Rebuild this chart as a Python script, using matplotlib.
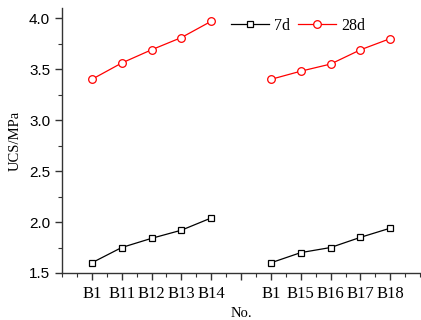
import numpy as np
import matplotlib
matplotlib.use("Agg")
import matplotlib.pyplot as plt
from matplotlib.ticker import MultipleLocator

tick_labels = ["B1", "B11", "B12", "B13", "B14", "", "B1", "B15", "B16", "B17", "B18"]
ucs_7d = [1.60, 1.75, 1.84, 1.92, 2.04, np.nan, 1.60, 1.70, 1.75, 1.85, 1.94]
ucs_28d = [3.40, 3.56, 3.69, 3.81, 3.97, np.nan, 3.40, 3.48, 3.55, 3.69, 3.80]

x = np.arange(1, len(tick_labels) + 1)

fig = plt.figure(figsize=(4.21, 3.20), dpi=100)
ax = fig.add_axes([62/421, 1 - 273/320, 1 - 62/421 - 0.002, (273 - 8)/320])

ax.plot(x, ucs_7d, color="black", lw=0.9, marker="s", ms=5, mfc="white", mec="black", mew=0.9, label="7d")
ax.plot(x, ucs_28d, color="red", lw=0.9, marker="o", ms=5.5, mfc="white", mec="red", mew=0.9, label="28d")

ax.set_xlim(0, 12)
ax.set_ylim(1.5, 4.1)
ax.set_xticks(x)
ax.set_xticklabels(tick_labels, family="Liberation Serif", fontsize=12)
ax.xaxis.set_minor_locator(MultipleLocator(0.5))
ax.yaxis.set_minor_locator(MultipleLocator(0.25))
ax.set_yticks([1.5, 2.0, 2.5, 3.0, 3.5, 4.0])
ax.set_yticklabels(["1.5", "2.0", "2.5", "3.0", "3.5", "4.0"], family="Liberation Sans", fontsize=11)

for s in ["top", "right"]:
    ax.spines[s].set_visible(False)
for s in ["left", "bottom"]:
    ax.spines[s].set_linewidth(1.0)
    ax.spines[s].set_color("#333333")
ax.tick_params(which="major", direction="out", length=5, width=1.0, color="#333333")
ax.tick_params(which="minor", direction="out", length=3, width=0.8, color="#333333")
ax.tick_params(axis="x", pad=4)

ax.set_ylabel("UCS/MPa", family="Liberation Serif", fontsize=10.5, labelpad=5)
ax.set_xlabel("No.", family="Liberation Serif", fontsize=10.5, labelpad=4)

ax.legend(loc="upper left", bbox_to_anchor=(0.445, 1.0), ncol=2, frameon=False,
          prop={"family": "Liberation Serif", "size": 11.5}, handlelength=2.4,
          columnspacing=0.5, handletextpad=0.3, borderaxespad=0.2)

fig.savefig("out.png", dpi=100)
